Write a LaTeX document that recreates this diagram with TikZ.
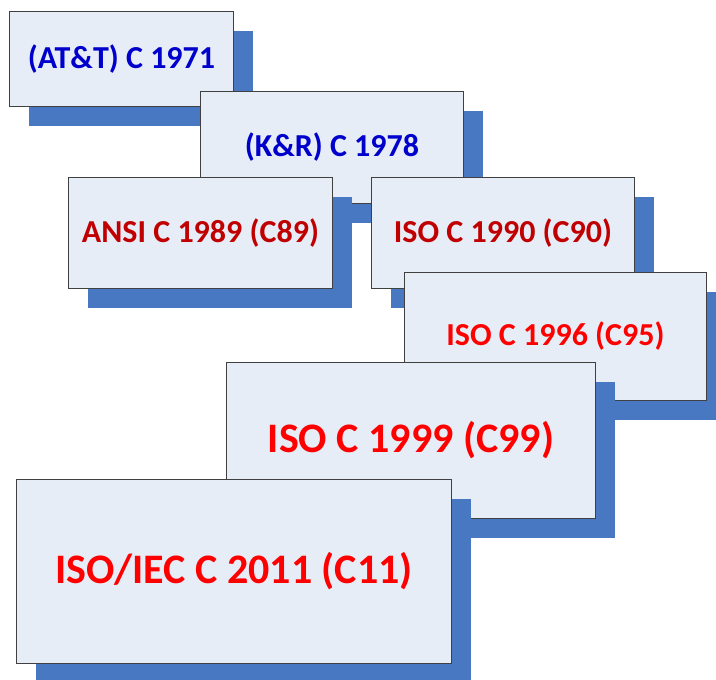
\documentclass[tikz,border=0pt]{standalone}
\usepackage{fontspec}
\setmainfont{Carlito}
\usetikzlibrary{shadows}
\definecolor{boxfill}{HTML}{E7EDF7}
\definecolor{shadowblue}{HTML}{4878C2}
\definecolor{edgegray}{HTML}{404040}
\definecolor{oldblue}{HTML}{0000CC}
\definecolor{darkred}{HTML}{C00000}
\definecolor{brightred}{HTML}{FF0000}
\begin{document}
\begin{tikzpicture}[x=1pt,y=-1pt,
  verbox/.style={draw=edgegray, line width=0.9pt, fill=boxfill, anchor=north west,
    inner sep=0pt, font=\bfseries,
    drop shadow={shadow xshift=20pt, shadow yshift=-20pt, opacity=1, fill=shadowblue, draw=none}},
  smalltxt/.style={font=\bfseries\fontsize{32}{34}\selectfont},
  bigtxt/.style={font=\bfseries\fontsize{42}{44}\selectfont}]
\useasboundingbox (0,0) rectangle (716,680);
\node[verbox, smalltxt, text=oldblue, minimum width=224pt, minimum height=95pt] (att) at (9,11) {(AT\&T) C 1971};
\node[verbox, smalltxt, text=oldblue, minimum width=263pt, minimum height=112pt] (kr) at (200,91) {(K\&R) C 1978};
\node[verbox, smalltxt, text=darkred, minimum width=264pt, minimum height=111pt] (ansi) at (68,177) {ANSI C 1989 (C89)};
\node[verbox, smalltxt, text=darkred, minimum width=263pt, minimum height=111pt] (iso90) at (371,177) {ISO C 1990 (C90)};
\node[verbox, smalltxt, text=brightred, minimum width=302pt, minimum height=128pt] (iso96) at (404,272) {ISO C 1996 (C95)};
\node[verbox, bigtxt, text=brightred, minimum width=369pt, minimum height=156pt] (iso99) at (226,362) {ISO C 1999 (C99)};
\node[verbox, bigtxt, text=brightred, minimum width=435pt, minimum height=184pt] (c11) at (16,479) {ISO/IEC C 2011 (C11)};
\end{tikzpicture}
\end{document}
